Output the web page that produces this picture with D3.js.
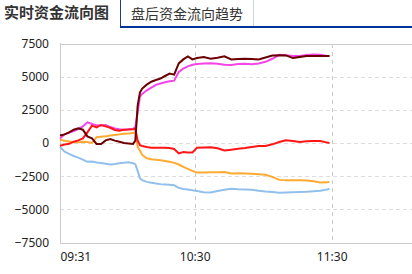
<!DOCTYPE html>
<meta charset="utf-8">
<title>实时资金流向图</title>
<style>
body { margin: 0; background: #fff; }
.tab { font-family: "Noto Sans CJK SC", sans-serif; fill: #333; }
.axis text { font-family: "Noto Sans", sans-serif; font-size: 12px; fill: #222; }
</style>
<body>
<svg width="412" height="274"></svg>
<script src="https://d3js.org/d3.v7.min.js"></script>
<script>
// data (one point every few minutes)
var times = ["09:31","09:33","09:35","09:37","09:39","09:41","09:43","09:45","09:47","09:49",
  "09:51","09:53","09:55","09:57","09:59","10:01","10:03","10:04","10:05","10:06",
  "10:07","10:09","10:11","10:13","10:15","10:17","10:19","10:21","10:23","10:25",
  "10:27","10:29","10:31","10:34","10:37","10:40","10:43","10:46","10:49","10:52",
  "10:55","10:58","11:01","11:04","11:07","11:10","11:13","11:16","11:19","11:22",
  "11:25","11:28","11:29"];

var blueVals = [-300,-650,-820,-980,-1100,-1250,-1420,-1400,-1470,-1500,
  -1560,-1620,-1580,-1520,-1480,-1450,-1520,-1600,-2100,-2650,
  -2800,-2930,-3000,-3050,-3100,-3120,-3150,-3190,-3380,-3460,
  -3500,-3560,-3620,-3720,-3730,-3620,-3520,-3440,-3480,-3500,
  -3520,-3600,-3660,-3700,-3750,-3740,-3720,-3700,-3680,-3640,
  -3600,-3500,-3450];

var orangeVals = [250,170,120,60,50,90,80,0,430,470,
  500,560,610,650,690,720,750,800,-300,-570,
  -900,-1150,-1220,-1260,-1300,-1350,-1420,-1500,-1620,-1800,
  -1950,-2100,-2230,-2230,-2200,-2200,-2180,-2300,-2280,-2300,
  -2320,-2350,-2400,-2550,-2780,-2800,-2810,-2810,-2820,-2880,
  -2970,-2950,-2940];

var redVals = [-200,-120,-60,100,200,350,800,1310,1180,1360,
  1250,1150,980,930,1000,1010,1040,1060,200,-170,
  -220,-300,-350,-350,-360,-350,-380,-450,-780,-680,
  -720,-720,-350,-330,-320,-400,-560,-500,-430,-380,
  -300,-220,-230,-100,80,200,150,80,130,150,
  150,30,0];

var magentaVals = [330,650,780,900,1050,1250,1560,1430,1330,1320,
  1350,1200,1100,1030,1000,1040,1080,1180,2300,3500,
  3700,3970,4180,4380,4480,4580,4650,4700,5350,5600,
  5780,5900,5950,6000,6020,5980,5900,5880,5960,5970,
  5930,6000,6120,6350,6650,6620,6560,6560,6640,6680,
  6660,6560,6550];

var maroonVals = [560,650,800,1000,1100,1000,500,350,-70,-70,
  200,300,180,100,0,-30,-70,180,2800,3800,
  4100,4400,4620,4750,4860,5050,5230,5150,6000,6300,
  6530,6300,6400,6480,6350,6420,6530,6300,6330,6350,
  6330,6300,6450,6600,6620,6600,6400,6480,6550,6550,
  6550,6550,6550];

var yTicks = [7500, 5000, 2500, 0, -2500, -5000, -7500];
var xTickLabels = ["09:31", "10:30", "11:30"];

// minutes since 09:31
function toMin(s) {
  var p = s.split(":");
  return (+p[0]) * 60 + (+p[1]) - (9 * 60 + 31);
}

var svg = d3.select("svg");

// tabs
svg.append("text").attr("class", "tab")
    .attr("x", 4).attr("y", 18)
    .attr("font-size", 15).attr("font-weight", "bold")
    .text("实时资金流向图");

svg.append("line").attr("x1", 120.5).attr("x2", 120.5).attr("y1", 0).attr("y2", 27)
    .attr("stroke", "#1f3b86");
svg.append("line").attr("x1", 253.5).attr("x2", 253.5).attr("y1", 0).attr("y2", 26)
    .attr("stroke", "#c9d5e8");
svg.append("line").attr("x1", 120).attr("x2", 412).attr("y1", 27).attr("y2", 27)
    .attr("stroke", "#003399").attr("stroke-width", 2);
svg.append("text").attr("class", "tab")
    .attr("x", 131).attr("y", 19)
    .attr("font-size", 14)
    .text("盘后资金流向趋势");

// scales
var x = d3.scaleLinear().domain([0, 120]).range([60, 334]);
var y = d3.scaleLinear().domain([-7500, 7500]).range([242.5, 43.5]);

// horizontal grid
svg.append("g")
    .selectAll("line")
    .data(yTicks)
    .enter().append("line")
      .attr("x1", 60).attr("x2", 412)
      .attr("y1", function(d) { return Math.round(y(d)) + 0.5; })
      .attr("y2", function(d) { return Math.round(y(d)) + 0.5; })
      .attr("stroke", function(d) { return Math.abs(d) == 7500 ? "#cccccc" : "#dddddd"; })
      .attr("stroke-dasharray", function(d) { return Math.abs(d) == 7500 ? null : "4,3"; });

// vertical grid at 10:30 and 11:30
svg.append("g")
    .selectAll("line")
    .data(xTickLabels.slice(1))
    .enter().append("line")
      .attr("x1", function(d) { return Math.round(x(toMin(d))) + 0.5; })
      .attr("x2", function(d) { return Math.round(x(toMin(d))) + 0.5; })
      .attr("y1", 44).attr("y2", 242)
      .attr("stroke", "#cccccc")
      .attr("stroke-dasharray", "4,4");

// left axis line
svg.append("line").attr("x1", 60.5).attr("x2", 60.5).attr("y1", 43).attr("y2", 243)
    .attr("stroke", "#cccccc");

// y axis labels
svg.append("g")
    .attr("class", "axis")
    .attr("transform", "translate(60,0)")
    .call(d3.axisLeft(y).tickValues(yTicks).tickFormat(d3.format("d")).tickSize(0).tickPadding(11))
    .call(function(g) { g.select(".domain").remove(); });

// x axis labels
svg.append("g")
    .attr("class", "axis")
    .attr("transform", "translate(0,250)")
    .call(d3.axisBottom(x)
      .tickValues(xTickLabels.map(toMin))
      .tickFormat(function(d, i) { return xTickLabels[i]; })
      .tickSize(0).tickPadding(0))
    .call(function(g) {
      g.select(".domain").remove();
      g.selectAll("text").attr("dy", "0.95em");
      g.select(".tick text").attr("text-anchor", "start");
    });

// lines
var series = [
  { vals: blueVals, color: "#92c0ec" },
  { vals: orangeVals, color: "#ffab33" },
  { vals: magentaVals, color: "#f545e6" },
  { vals: redVals, color: "#ff1515" },
  { vals: maroonVals, color: "#6a0000" }
];

var line = d3.line()
    .x(function(d, i) { return x(toMin(times[i])); })
    .y(function(d) { return y(d); });

svg.append("g")
    .selectAll("path")
    .data(series)
    .enter().append("path")
      .attr("fill", "none")
      .attr("stroke", function(d) { return d.color; })
      .attr("stroke-width", 2)
      .attr("d", function(d) { return line(d.vals); });
</script>
</body>
